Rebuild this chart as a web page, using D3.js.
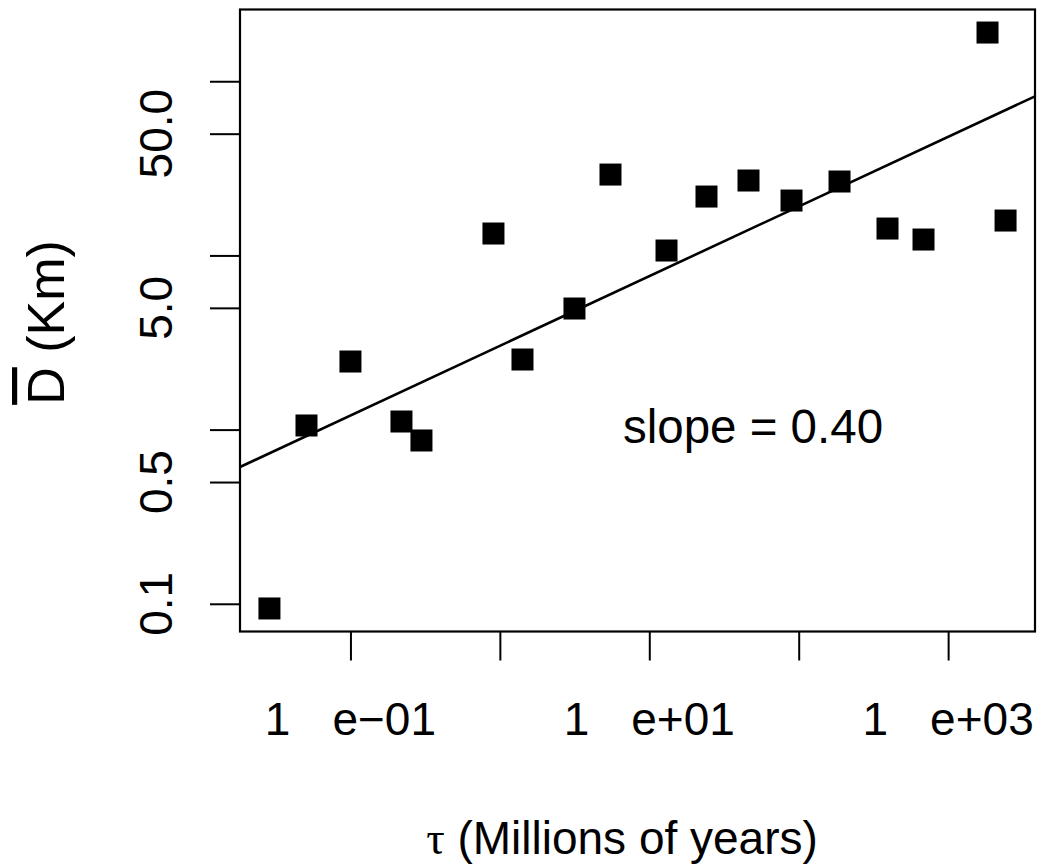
<!DOCTYPE html>
<html>
<head>
<meta charset="utf-8">
<script src="https://cdn.jsdelivr.net/npm/d3@7"></script>
<style>
body { margin: 0; background: #fff; }
svg { display: block; font-family: "Liberation Sans", Arial, sans-serif; }
</style>
</head>
<body>
<svg width="1041" height="867"></svg>
<script>
// data (log-log)
const tau = [0.0287, 0.0508, 0.100, 0.2195, 0.2987, 0.906, 1.417, 3.157, 5.50, 13.04,
             24.15, 46.13, 89.5, 187.6, 392.9, 684.3, 1835, 2423];
const dBar = [0.094, 1.056, 2.46, 1.113, 0.866, 13.36, 2.526, 4.957, 29.13, 10.67,
              21.78, 26.92, 20.66, 26.57, 14.27, 12.34, 190.4, 15.86];

// fitted line in log10 space
const fitSlope = 0.40;
const fitIntercept = 0.481;

const xTicks = [0.1, 1, 10, 100, 1000];
const xTickLabels = [["1", "e\u221201"], null, ["1", "e+01"], null, ["1", "e+03"]];
const yTicks = [0.1, 0.5, 1, 5, 10, 50, 100];
const yTickLabels = ["0.1", "0.5", "", "5.0", "", "50.0", ""];

const svg = d3.select("svg");
const width = 1041;
const height = 867;
const margin = { top: 9.5, right: 6, bottom: 235.5, left: 240 };
const fontSize = 46;

// R style 4% padding on log axes
function padLog(values) {
  const lo = Math.log10(d3.min(values)), hi = Math.log10(d3.max(values));
  const pad = (hi - lo) * 0.04;
  return [Math.pow(10, lo - pad), Math.pow(10, hi + pad)];
}

const x = d3.scaleLog()
  .domain(padLog(tau))
  .range([margin.left, width - margin.right]);

const y = d3.scaleLog()
  .domain(padLog(dBar))
  .range([height - margin.bottom, margin.top]);

svg.append("clipPath").attr("id", "plotArea")
  .append("rect")
  .attr("x", margin.left).attr("y", margin.top)
  .attr("width", width - margin.left - margin.right)
  .attr("height", height - margin.top - margin.bottom);

// axes (ticks only, labels drawn separately)
const xAxis = svg.append("g")
  .attr("transform", `translate(0,${height - margin.bottom})`)
  .call(d3.axisBottom(x).tickValues(xTicks).tickSize(29).tickFormat(""));
const yAxis = svg.append("g")
  .attr("transform", `translate(${margin.left},0)`)
  .call(d3.axisLeft(y).tickValues(yTicks).tickSize(30).tickFormat(""));
[xAxis, yAxis].forEach(g => {
  g.select(".domain").remove();
  g.selectAll(".tick line").attr("stroke", "#000").attr("stroke-width", 2);
});

// x tick labels "1   e+01"
svg.append("g").selectAll("text")
  .data(xTicks.map((t, i) => ({ t, lab: xTickLabels[i] })).filter(d => d.lab))
  .enter().append("text")
  .attr("x", d => x(d.t))
  .attr("y", 735)
  .attr("text-anchor", "middle")
  .attr("font-size", fontSize)
  .each(function (d) {
    const t = d3.select(this);
    t.append("tspan").text(d.lab[0]);
    t.append("tspan").attr("dx", 42).text(d.lab[1]);
  });

// y tick labels, rotated
svg.append("g").selectAll("text")
  .data(yTicks.map((t, i) => ({ t, lab: yTickLabels[i] })).filter(d => d.lab))
  .enter().append("text")
  .attr("transform", d => `translate(172,${y(d.t)}) rotate(-90)`)
  .attr("text-anchor", "middle")
  .attr("font-size", fontSize)
  .text(d => d.lab);

// regression line
const xd = x.domain();
svg.append("line")
  .attr("clip-path", "url(#plotArea)")
  .attr("x1", x(xd[0]))
  .attr("y1", y(Math.pow(10, fitIntercept + fitSlope * Math.log10(xd[0]))))
  .attr("x2", x(xd[1]))
  .attr("y2", y(Math.pow(10, fitIntercept + fitSlope * Math.log10(xd[1]))))
  .attr("stroke", "#000")
  .attr("stroke-width", 2.6);

// points
const sq = 22;
svg.append("g").selectAll("rect")
  .data(tau.map((t, i) => [t, dBar[i]]))
  .enter().append("rect")
  .attr("x", d => x(d[0]) - sq / 2)
  .attr("y", d => y(d[1]) - sq / 2)
  .attr("width", sq)
  .attr("height", sq)
  .attr("fill", "#000");

// box
svg.append("rect")
  .attr("x", margin.left).attr("y", margin.top)
  .attr("width", width - margin.left - margin.right)
  .attr("height", height - margin.top - margin.bottom)
  .attr("fill", "none")
  .attr("stroke", "#000")
  .attr("stroke-width", 2.2);

// annotation
svg.append("text")
  .attr("x", 753).attr("y", 443)
  .attr("text-anchor", "middle")
  .attr("font-size", 47.5)
  .text("slope = 0.40");

// axis titles
const xTitle = svg.append("text")
  .attr("x", 622).attr("y", 854)
  .attr("text-anchor", "middle")
  .attr("font-size", fontSize);
xTitle.append("tspan").attr("font-family", "'Liberation Serif', serif").text("\u03c4");
xTitle.append("tspan").text(" (Millions of years)");

const yTitle = svg.append("text")
  .attr("transform", `translate(64,${(margin.top + height - margin.bottom) / 2 + 2}) rotate(-90)`)
  .attr("text-anchor", "middle")
  .attr("font-size", 52);
yTitle.append("tspan").style("text-decoration", "overline").text("D");
yTitle.append("tspan").text(" (Km)");
</script>
</body>
</html>
